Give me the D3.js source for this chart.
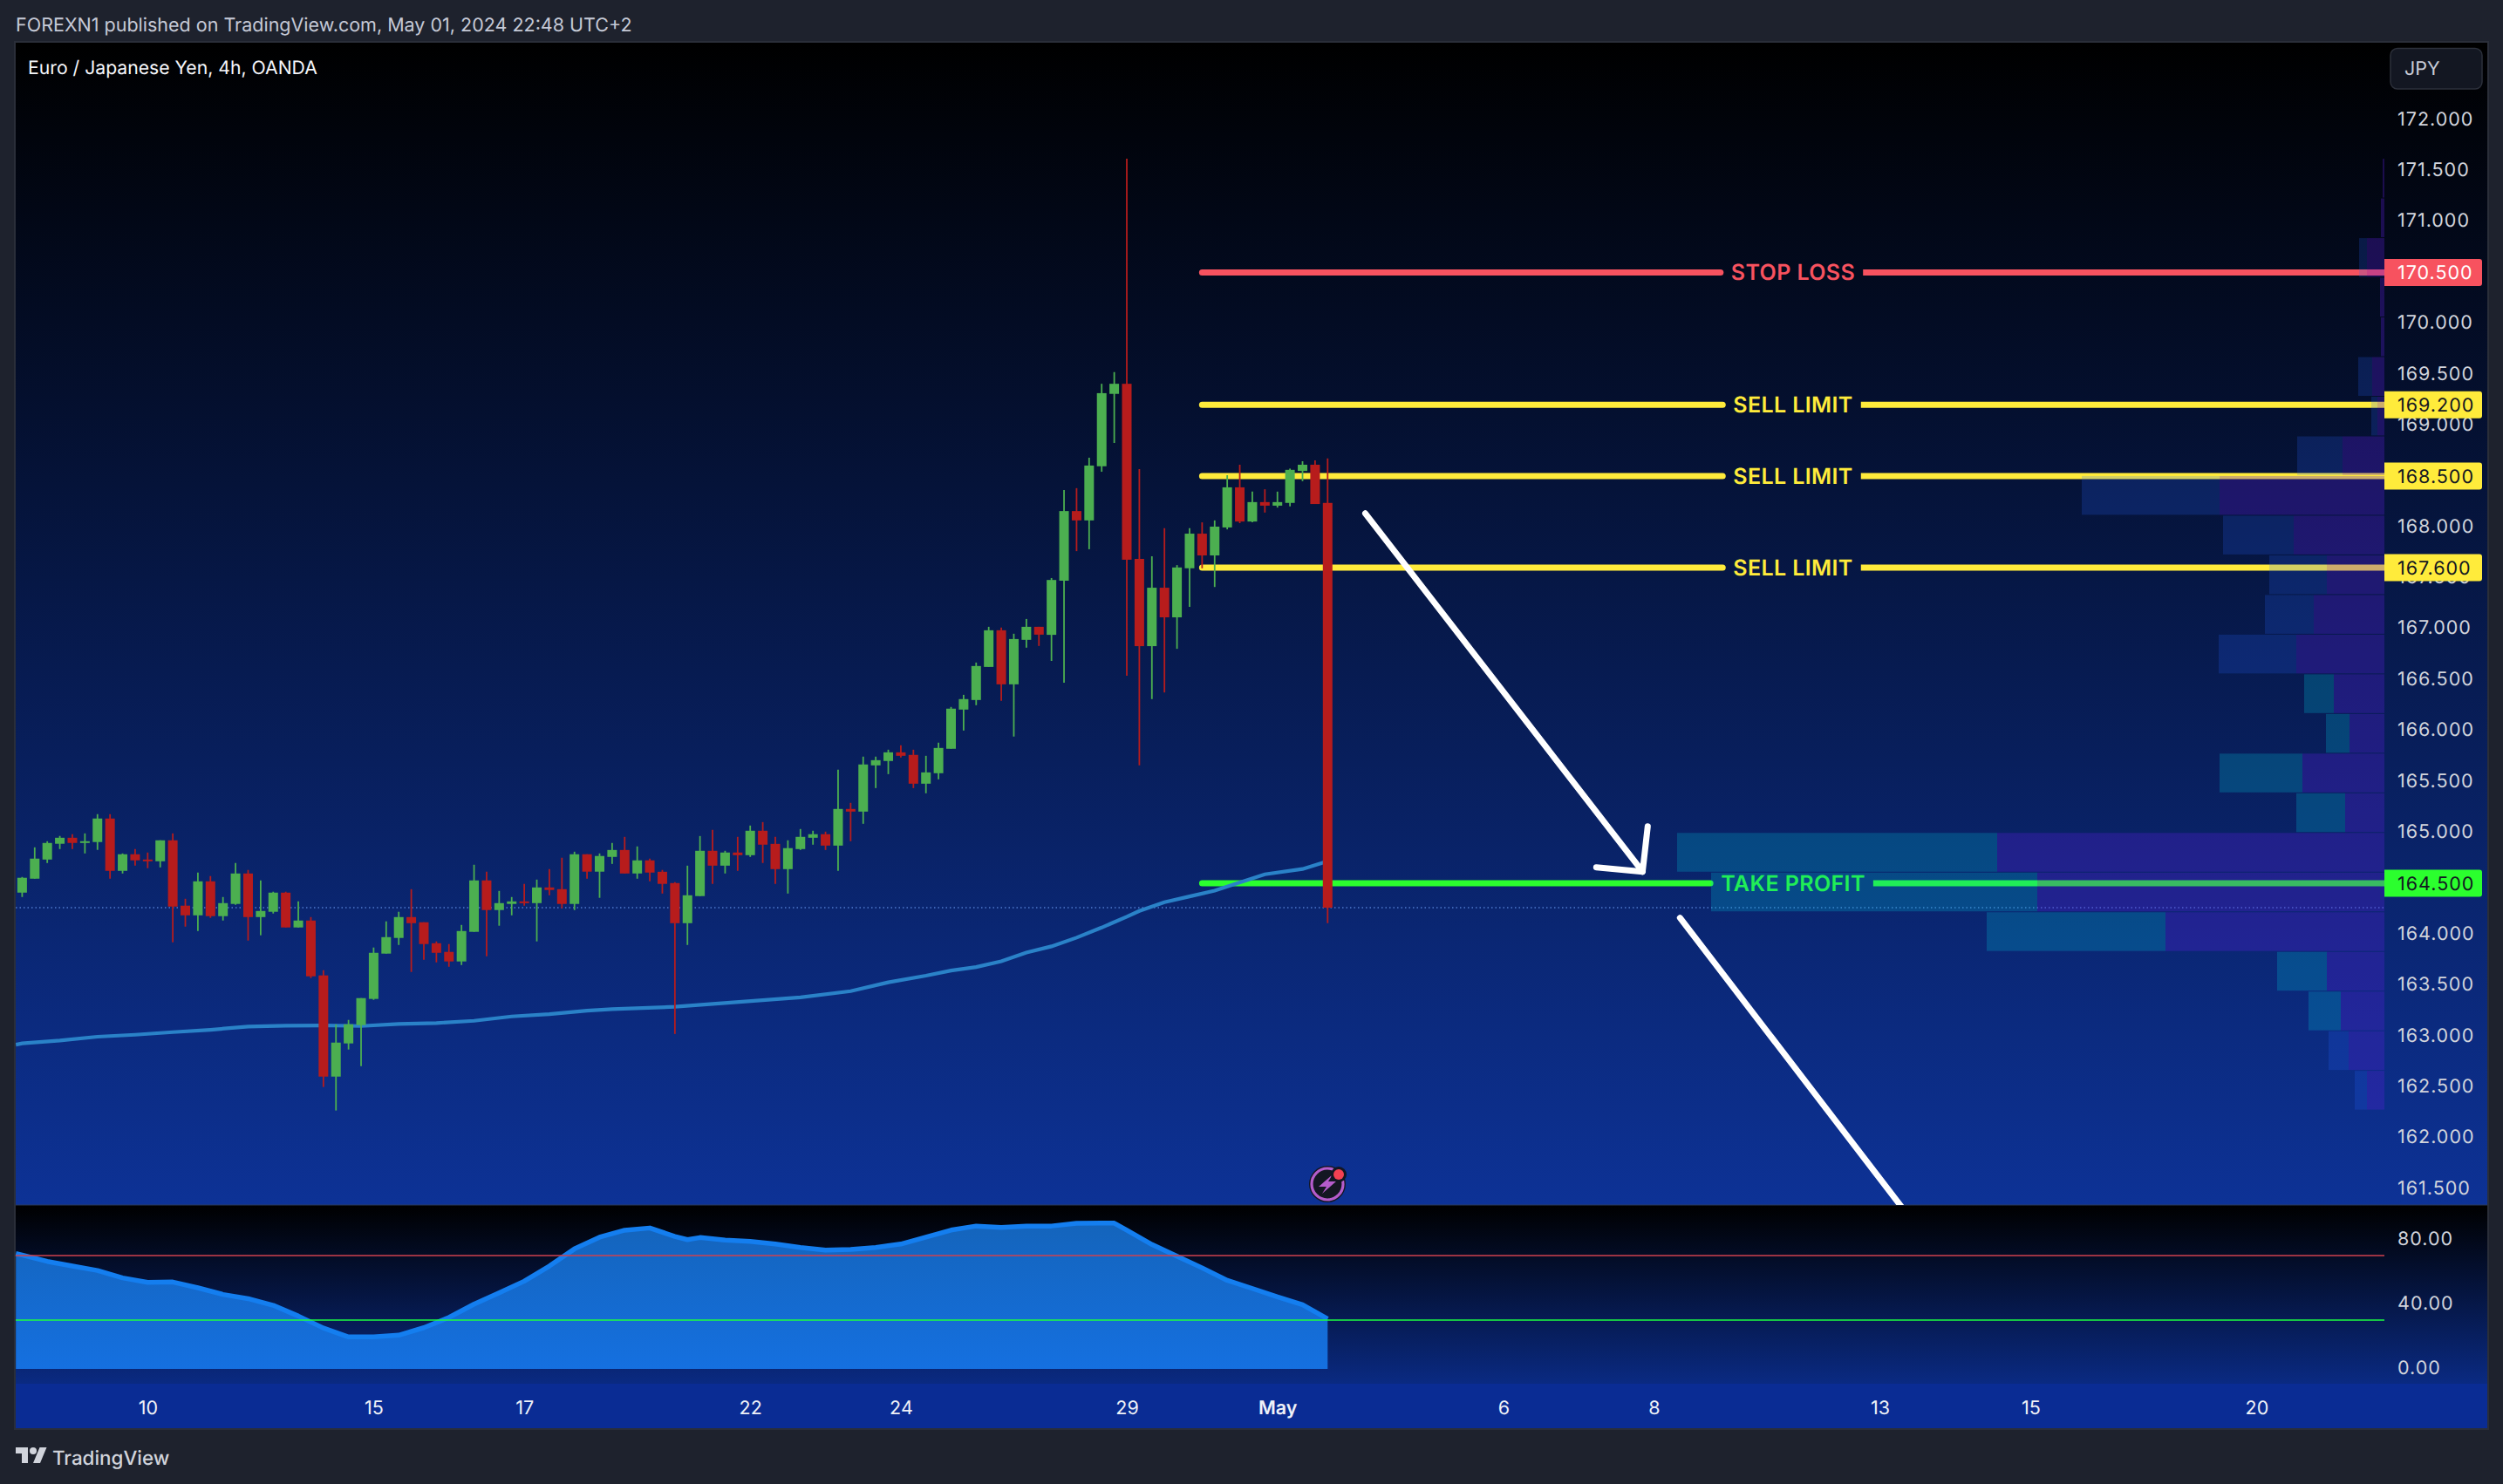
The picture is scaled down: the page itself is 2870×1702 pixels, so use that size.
<!DOCTYPE html>
<html><head><meta charset="utf-8">
<script src="https://cdn.jsdelivr.net/npm/d3@7/dist/d3.min.js"></script>
<style>
html,body{margin:0;padding:0;background:#1e222d;overflow:hidden}
svg{display:block}
text{font-family:Inter,"Noto Sans",sans-serif;text-rendering:geometricPrecision}
.domain{display:none}
</style></head><body>
<div id="chart"></div>
<script>
const headerText = "FOREXN1 published on TradingView.com, May 01, 2024 22:48 UTC+2";
const legendText = "Euro / Japanese Yen, 4h, OANDA";
const opens = [164.408,164.545,164.733,164.888,164.947,164.896,164.905,165.136,164.622,164.785,
164.733,164.716,164.922,164.280,164.185,164.519,164.177,164.297,164.596,164.168,
164.220,164.408,164.066,164.134,163.595,162.601,162.927,163.107,163.364,163.809,
163.963,164.168,164.117,163.911,163.826,163.732,164.023,164.528,164.237,164.297,
164.322,164.305,164.459,164.442,164.297,164.785,164.614,164.759,164.827,164.596,
164.725,164.613,164.502,164.108,164.374,164.819,164.673,164.802,164.776,165.016,
164.887,164.639,164.836,164.947,164.982,164.870,165.230,165.204,165.658,165.701,
165.786,165.761,165.478,165.581,165.821,166.206,166.300,166.625,166.985,166.454,
166.891,167.019,166.940,167.472,168.156,168.064,168.596,169.307,169.406,167.686,
166.829,167.403,167.112,167.594,167.934,167.720,167.995,168.389,168.053,168.244,
168.209,168.236,168.550,168.611,168.236];
const highs = [164.562,164.853,164.913,164.965,164.982,164.990,165.179,165.179,164.793,164.836,
164.802,164.922,164.990,164.348,164.605,164.571,164.365,164.699,164.631,164.528,
164.417,164.417,164.322,164.168,163.646,163.115,163.158,163.372,163.869,164.126,
164.220,164.442,164.117,163.929,163.903,164.091,164.682,164.614,164.425,164.365,
164.494,164.536,164.639,164.751,164.810,164.785,164.793,164.896,164.956,164.862,
164.742,164.631,164.511,164.673,164.964,165.024,164.819,164.956,165.067,165.101,
164.956,164.922,165.033,165.016,165.007,165.615,165.290,165.744,165.744,165.812,
165.855,165.812,165.752,165.881,166.232,166.351,166.668,167.019,167.011,166.951,
167.096,167.019,167.498,168.362,168.381,168.680,169.406,169.521,171.616,168.569,
167.712,167.988,167.625,167.988,168.045,168.064,168.508,168.611,168.347,168.370,
168.347,168.573,168.645,168.653,168.672];
const lows = [164.365,164.545,164.699,164.836,164.836,164.793,164.828,164.545,164.596,164.674,
164.648,164.656,163.920,164.074,164.031,164.160,164.134,164.288,163.937,163.989,
164.203,164.066,164.066,163.569,162.499,162.268,162.867,162.704,163.355,163.809,
163.894,163.629,163.749,163.723,163.680,163.697,164.023,163.783,164.083,164.185,
164.280,163.929,164.382,164.254,164.237,164.545,164.357,164.690,164.596,164.545,
164.519,164.399,163.020,163.894,164.374,164.494,164.596,164.622,164.759,164.699,
164.494,164.399,164.827,164.879,164.827,164.622,164.913,165.084,165.435,165.572,
165.735,165.435,165.384,165.521,165.821,166.000,166.249,166.625,166.292,165.941,
166.814,166.831,166.684,166.470,167.762,167.781,168.542,168.825,166.539,165.658,
166.309,166.374,166.803,167.215,167.594,167.410,167.976,168.037,168.045,168.141,
168.190,168.202,168.450,168.225,164.109];
const closes = [164.554,164.742,164.896,164.947,164.896,164.913,165.136,164.622,164.785,164.725,
164.725,164.922,164.271,164.185,164.519,164.177,164.305,164.596,164.168,164.228,
164.408,164.066,164.134,163.586,162.601,162.935,163.115,163.372,163.817,163.971,
164.168,164.108,163.903,163.817,163.732,164.031,164.528,164.237,164.305,164.322,
164.314,164.459,164.434,164.297,164.785,164.614,164.768,164.827,164.596,164.725,
164.605,164.494,164.108,164.382,164.819,164.673,164.802,164.776,165.016,164.879,
164.639,164.845,164.956,164.982,164.870,165.230,165.204,165.667,165.709,165.786,
165.752,165.478,165.589,165.829,166.215,166.309,166.634,166.985,166.454,166.899,
167.019,166.942,167.479,168.156,168.064,168.603,169.314,169.406,167.678,166.829,
167.403,167.112,167.602,167.934,167.720,168.003,168.389,168.053,168.244,168.209,
168.244,168.561,168.611,168.225,164.260];

const emaIndex = [0.5,1,4,7,10,13,16,19,22,25,28,31,34,37,40,43,46,48,53,63,67,70,73,75,77,79,81,83,85,87,89,90,92,94,96,100,103,105];
const emaValues = [162.915,162.927,162.955,162.993,163.012,163.038,163.061,163.092,163.101,163.104,163.098,163.118,163.127,163.149,163.192,163.215,163.249,163.264,163.287,163.380,163.440,163.527,163.592,163.643,163.677,163.734,163.820,163.880,163.966,164.065,164.171,164.228,164.314,164.371,164.428,164.588,164.640,164.717];

const oscIndex = [0.5,1,3,5,7,9,11,13,15,17,19,21,23,25,27,29,31,33,35,37,39,41,43,45,47,49,51,53,54,55,57,59,61,63,65,67,69,71,73,75,77,79,81,83,85,87,88,89,91,93,95,97,99,101,103,105];
const oscValues = [71.1,70.2,66.3,63.4,60.7,56.1,53.4,53.6,50.0,45.9,43.3,39.2,32.6,25.2,19.7,19.7,20.8,25.4,31.7,39.9,46.9,54.1,63.4,74.0,81.2,85.5,86.9,81.7,79.7,81.0,79.4,78.6,77.0,74.9,73.3,73.6,74.9,77.0,81.3,85.6,88.1,87.2,88.1,88.1,89.8,89.9,89.9,85.5,76.7,69.5,62.3,54.6,49.6,44.4,39.6,30.8];

const profileDown = [2,4,20,5,4,14,8,48,189,104,66,81,101,58,40,94,45,444,398,251,66,50,41,20];
const profileUp = [0,0,9,0,0,16,7,52,158,81,66,56,89,34,27,95,56,367,374,205,57,37,23,14];
const profileValueArea = [0,0,0,0,0,0,0,0,0,0,0,0,0,1,1,1,1,1,1,1,1,1,0,0];

const levelPrices = [170.5,169.2,168.5,167.6,164.5];
const levelNames = ["STOP LOSS","SELL LIMIT","SELL LIMIT","SELL LIMIT","TAKE PROFIT"];
const levelColors = ["#f7525f","#ffeb3b","#ffeb3b","#ffeb3b","#2bff2e"];
const levelBoxText = ["#ffffff","#131722","#131722","#131722","#131722"];

const arrowShaftIndex = [108,130.09], arrowShaftPrice = [168.133,164.614];
const arrowHeadIndex = [130.5,130.09,126.4], arrowHeadPrice = [165.059,164.614,164.657];
const exitLineIndex = [133.07,151.6], exitLinePrice = [164.16,161.18];

const priceTicks = d3.range(161.5,172.01,0.5);
const oscTicks = [0,40,80];
const timeTickIndex = [11,29,41,59,71,89,101,119,131,149,161,179];
const timeTickLabels = ["10","15","17","22","24","29","May","6","8","13","15","20"];
const lastPrice = closes[closes.length-1];

const W=2870,H=1702, L=18,R=2852,AX=2734,T=49,MB=1382,OB=1587,B=1638;
const svg=d3.select("#chart").append("svg").attr("width",W).attr("height",H);
const defs=svg.append("defs");
function grad(id,y1,y2,c1,c2){const g=defs.append("linearGradient").attr("id",id).attr("gradientUnits","userSpaceOnUse").attr("x1",0).attr("x2",0).attr("y1",y1).attr("y2",y2);
 g.append("stop").attr("offset",0).attr("stop-color",c1);g.append("stop").attr("offset",1).attr("stop-color",c2);}
grad("bgMain",T,MB,"#000000","#0d3296");
grad("bgOsc",MB,OB,"#000000","#0a2a82");
grad("oscFill",1400,1570,"#1464bb","#1570e0");
defs.append("clipPath").attr("id","mainClip").append("rect").attr("x",L).attr("y",T).attr("width",AX-L).attr("height",MB-T);

svg.append("rect").attr("width",W).attr("height",H).attr("fill","#1e222d");
svg.append("rect").attr("x",L-1).attr("y",T-1).attr("width",R-L+2).attr("height",B-T+2).attr("fill","none").attr("stroke","#2a2e39").attr("stroke-width",2);
svg.append("rect").attr("x",L).attr("y",T).attr("width",R-L).attr("height",MB-T).attr("fill","url(#bgMain)");
svg.append("rect").attr("x",L).attr("y",MB).attr("width",R-L).attr("height",OB-MB).attr("fill","url(#bgOsc)");
svg.append("rect").attr("x",L).attr("y",OB).attr("width",R-L).attr("height",B-OB).attr("fill","#0a2c94");
svg.append("line").attr("x1",L).attr("x2",R).attr("y1",MB).attr("y2",MB).attr("stroke","#2a3a5c").attr("stroke-width",1);

const x=d3.scaleLinear().domain([1,105]).range([25.4,1522.3]);
const y=d3.scaleLinear().domain([161.34,172.756]).range([MB,T]);
const yo=d3.scaleLinear().domain([0,100]).range([1570,1384]);
const xv=d3.scaleLinear().domain([0,811]).range([AX,1923]);

// axes
const fs=21.5, ls=1;
const pAxis=svg.append("g").attr("transform",`translate(${AX},-1)`).call(d3.axisRight(y).tickValues(priceTicks).tickFormat(d3.format(".3f")).tickSize(0).tickPadding(15));
const oAxis=svg.append("g").attr("transform",`translate(${AX},-1)`).call(d3.axisRight(yo).tickValues(oscTicks).tickFormat(d3.format(".2f")).tickSize(0).tickPadding(15));
const tAxis=svg.append("g").attr("transform",`translate(0,${OB})`).call(d3.axisBottom(x).tickValues(timeTickIndex).tickFormat((d,i)=>timeTickLabels[i]).tickSize(0).tickPadding(20));
[pAxis,oAxis,tAxis].forEach(a=>a.selectAll("text").attr("font-size",fs).style("font-family",'Inter,"Noto Sans",sans-serif').attr("fill",a===tAxis?"#eef1f8":"#d1d4dc"));
pAxis.selectAll("text").attr("letter-spacing",ls);
oAxis.selectAll("text").attr("letter-spacing",ls);
tAxis.selectAll("text").filter((d,i)=>timeTickLabels[i]==="May").attr("font-weight",600);

const main=svg.append("g").attr("clip-path","url(#mainClip)");
// last price dotted
main.append("line").attr("x1",L).attr("x2",AX).attr("y1",Math.round(y(lastPrice))).attr("y2",Math.round(y(lastPrice))).attr("stroke","#4f78cc").attr("stroke-width",1.5).attr("stroke-dasharray","1.5 3");

// levels
levelPrices.forEach((p,i)=>{
  const yy=y(p),cx=2056;
  const t=main.append("text").attr("x",cx).attr("y",yy).attr("dy","0.36em").attr("text-anchor","middle").attr("font-size",25).attr("font-weight",600).attr("fill",levelColors[i]).attr("letter-spacing",0.4).text(levelNames[i]);
  const w=t.node().getComputedTextLength();
  main.append("line").attr("x1",x(95)).attr("x2",cx-w/2-12).attr("y1",yy).attr("y2",yy).attr("stroke",levelColors[i]).attr("stroke-width",7).attr("stroke-linecap","round");
  main.append("line").attr("x1",cx+w/2+9).attr("x2",AX).attr("y1",yy).attr("y2",yy).attr("stroke",levelColors[i]).attr("stroke-width",7);
});

// arrows
const lineGen=d3.line().x(d=>x(d[0])).y(d=>y(d[1]));
const wl=(xs,ps)=>main.append("path").attr("d",lineGen(xs.map((v,i)=>[v,ps[i]]))).attr("fill","none").attr("stroke","#ffffff").attr("stroke-width",7).attr("stroke-linecap","round").attr("stroke-linejoin","round");
wl(arrowShaftIndex,arrowShaftPrice);wl(arrowHeadIndex,arrowHeadPrice);wl(exitLineIndex,exitLinePrice);

// ema
main.append("path").attr("d",lineGen(emaIndex.map((v,i)=>[v,emaValues[i]]))).attr("fill","none").attr("stroke","#2a82c8").attr("stroke-width",4.2);

// candles
const idx=d3.range(closes.length);
const up=i=>closes[i]>=opens[i];
const colG="#4caf50",colR="#b71c1c";
main.append("g").selectAll("line").data(idx).join("line").attr("x1",i=>x(i+1)).attr("x2",i=>x(i+1)).attr("y1",i=>y(highs[i])).attr("y2",i=>y(lows[i])).attr("stroke",i=>up(i)?colG:colR).attr("stroke-width",1.8);
main.append("g").selectAll("rect").data(idx).join("rect").attr("x",i=>x(i+1)-5.5).attr("width",11).attr("y",i=>y(Math.max(opens[i],closes[i]))).attr("height",i=>Math.max(2,Math.abs(y(opens[i])-y(closes[i])))).attr("fill",i=>up(i)?colG:colR);

// volume profile, drawn over the level lines
const pHi=d3.max(highs),pLo=d3.min(lows),step=(pHi-pLo)/profileDown.length;
const vp=main.append("g");
profileDown.forEach((d,i)=>{
  const yt=y(pHi-i*step),yb=y(pHi-(i+1)*step)-1;
  vp.append("rect").attr("x",xv(d)).attr("width",AX-xv(d)).attr("y",yt).attr("height",yb-yt).attr("fill","rgba(90,30,220,0.30)");
  if(profileUp[i]>0) vp.append("rect").attr("x",xv(d+profileUp[i])).attr("width",xv(d)-xv(d+profileUp[i])).attr("y",yt).attr("height",yb-yt).attr("fill",profileValueArea[i]?"rgba(0,188,212,0.25)":"rgba(41,98,255,0.2)");
});

// price boxes
levelPrices.forEach((p,i)=>{
  const yy=y(p);
  svg.append("path").attr("d",`M${AX} ${yy-15.5}H2843a3 3 0 0 1 3 3V${yy+12.5}a3 3 0 0 1 -3 3H${AX}Z`).attr("fill",levelColors[i]);
  svg.append("text").attr("x",2749).attr("y",yy).attr("dy","0.36em").attr("font-size",fs).attr("letter-spacing",ls).attr("fill",levelBoxText[i]).text(d3.format(".3f")(p));
});

// oscillator
const oscPts=oscIndex.map((v,i)=>[v,oscValues[i]]);
const osc=svg.append("g");
osc.append("path").attr("d",d3.area().x(d=>x(d[0])).y0(yo(0)).y1(d=>yo(d[1]))(oscPts)).attr("fill","url(#oscFill)");
osc.append("path").attr("d",d3.line().x(d=>x(d[0])).y(d=>yo(d[1]))(oscPts)).attr("fill","none").attr("stroke","#147eef").attr("stroke-width",5.5).attr("stroke-linejoin","round");
[[70,"#d0404e"],[30,"#1cff40"]].forEach(([v,c])=>osc.append("line").attr("x1",L).attr("x2",AX).attr("y1",Math.round(yo(v))).attr("y2",Math.round(yo(v))).attr("stroke",c).attr("stroke-width",1.5));

// text chrome
svg.append("text").attr("x",18).attr("y",36).attr("font-size",21.5).attr("fill","#c5c9d6").text(headerText);
svg.append("text").attr("x",32).attr("y",85).attr("font-size",21.2).attr("fill","#f5f6fa").text(legendText);
svg.append("rect").attr("x",2741).attr("y",55.5).attr("width",105).attr("height",46.5).attr("rx",8).attr("fill","#131722").attr("stroke","#2c303b").attr("stroke-width",1.5);
svg.append("text").attr("x",2757).attr("y",86).attr("font-size",21.5).attr("fill","#c8ccd8").text("JPY");

// icon
const ic=svg.append("g").attr("transform","translate(1522,1358)");
ic.append("circle").attr("r",21).attr("fill","#131722");
ic.append("circle").attr("r",18).attr("fill","#131722").attr("stroke","#b45ccb").attr("stroke-width",3.2);
ic.append("path").attr("d","M6 -11L-10 3H-1L-6 11L10 -3H1Z").attr("fill","#b45ccb");
ic.append("circle").attr("cx",13).attr("cy",-11).attr("r",9).attr("fill","#131722");
ic.append("circle").attr("cx",13).attr("cy",-11).attr("r",6).attr("fill","#f44152");

// logo
const lg=svg.append("g").attr("transform","translate(18,1656)").attr("fill","#d1d4dc");
lg.append("path").attr("d","M14 22H7V11H0V4h14v18zM28 22h-8l7.5-18h8L28 22z");
lg.append("circle").attr("cx",20).attr("cy",8).attr("r",4);
svg.append("text").attr("x",60).attr("y",1680).attr("font-size",22.4).attr("font-weight",500).attr("fill","#d1d4dc").text("TradingView");
</script>
</body></html>
